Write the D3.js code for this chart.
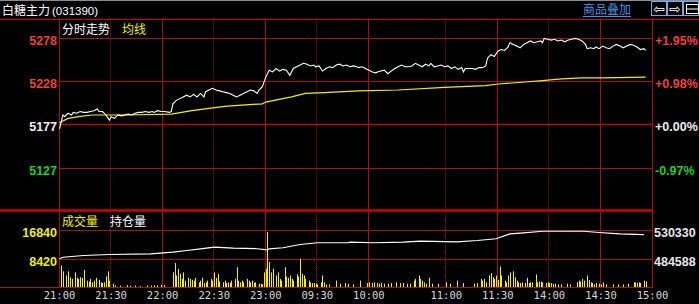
<!DOCTYPE html>
<html><head><meta charset="utf-8">
<script src="https://cdn.jsdelivr.net/npm/d3@7/dist/d3.min.js"></script>
<style>html,body{margin:0;padding:0;background:#000;overflow:hidden}svg{display:block}</style>
</head><body><svg id="c" width="699" height="304"></svg>
<script>
// ---------- data ----------
const title = "白糖主力";
const code = "(031390)";
const timeLabels = ["21:00","21:30","22:00","22:30","23:00","09:30","10:00","11:00","11:30","14:00","14:30","15:00"];
const timeMinutes = [0,30,60,90,120,150,180,225,255,285,315,345];
const priceTicks = [5278,5228,5177,5127];
const pctTicks = ["+1.95%","+0.98%","+0.00%","-0.97%"];
const volTicks = [16840,8420];
const oiTicks = [530330,484588];
const preClose = 5177;

const priceMin = [0,2,3,5,7,8,10,12,14,16,18,20,22,23,25,27,29,30,32,34,36,38,40,42,44,46,48,50,52,54,55,57,59,61,64,65,66,68,70,72,74,76,78,80,82,84,85,87,89,91,93,95,97,99,101,103,105,107,109,111,113,115,116,118,120,122,124,126,128,130,132,134,136,138,140,142,144,146,148,149,151,153,155,157,159,161,163,165,167,169,171,173,174,176,178,180,182,184,185,187,189,191,193,195,197,199,201,203,205,207,209,211,213,215,216,218,220,222,224,226,228,230,232,234,235,236,238,240,242,244,246,248,249,251,253,255,257,259,261,262,264,266,268,270,272,274,276,278,280,281,282,284,286,288,290,292,294,296,298,300,302,304,306,307,309,311,312,314,316,318,320,322,324,326,328,330,332,334,336,338,340,341];
const priceVal = [5172,5188,5186,5190,5188,5191,5190,5192,5191,5191,5192,5193,5195,5192,5192,5188,5182,5186,5184,5188,5187,5188,5189,5188,5190,5191,5191,5192,5191,5192,5191,5193,5192,5192,5191,5192,5201,5205,5207,5209,5211,5209,5212,5209,5213,5209,5215,5217,5219,5217,5216,5215,5214,5213,5211,5209,5211,5213,5215,5217,5216,5213,5217,5221,5232,5240,5238,5242,5239,5241,5240,5234,5242,5244,5246,5248,5247,5245,5246,5244,5245,5239,5242,5244,5243,5246,5247,5245,5246,5244,5245,5244,5243,5244,5242,5240,5238,5237,5238,5239,5240,5236,5239,5242,5244,5246,5244,5244,5245,5248,5246,5244,5247,5245,5248,5244,5245,5246,5244,5245,5242,5244,5241,5243,5238,5242,5242,5242,5241,5243,5243,5245,5254,5258,5256,5262,5264,5263,5267,5272,5270,5268,5266,5270,5272,5274,5272,5273,5274,5272,5277,5276,5275,5276,5274,5275,5273,5275,5276,5277,5276,5274,5270,5265,5266,5265,5267,5265,5268,5266,5265,5268,5270,5268,5266,5268,5270,5269,5267,5264,5265,5263];

const avgMin = [0,5,11,19,38,65,77,96,118,120,135,143,154,174,197,224,248,255,269,281,292,304,316,341];
const avgVal = [5179,5184,5186,5188,5188,5189,5193,5198,5201,5203,5209,5213,5214,5216,5217,5220,5222,5224,5226,5228,5230,5231,5231,5232];

const volMin = [1,2,4,5,6,7,9,10,11,12,13,14,16,17,18,19,20,21,23,24,25,26,27,28,29,31,32,35,39,41,44,47,51,53,55,57,59,61,66,67,68,69,70,71,72,73,75,76,77,78,79,81,82,83,84,85,86,88,89,90,91,92,93,95,96,97,98,99,100,102,103,104,105,106,107,109,110,111,112,113,114,116,117,118,119,120,121,122,123,124,126,127,128,129,131,132,133,134,135,136,138,139,140,141,142,143,145,146,147,148,149,150,152,153,154,155,157,161,163,166,168,171,175,179,180,182,183,185,186,187,189,191,193,196,198,200,202,204,206,207,209,210,211,212,213,215,217,220,225,227,231,235,241,243,245,246,247,248,250,251,252,253,254,255,256,257,259,260,261,262,264,265,266,267,268,269,271,272,273,274,275,277,278,279,280,281,283,284,285,286,287,288,290,292,295,297,301,302,303,304,305,307,308,309,310,311,312,314,315,316,318,322,325,328,331,334,335,336,337,338,340,341];
const volVal = [6400,4700,3500,4700,3000,2500,4400,2800,2500,3000,2800,5100,2000,1700,2500,1500,2000,2800,2200,1500,1300,1500,3200,4700,2000,1100,600,500,700,500,600,400,600,500,700,600,800,700,4400,7100,3500,5400,4000,2500,4400,2000,2800,2500,2200,2000,2800,1500,2000,2800,1300,1500,2000,2500,2000,4400,2800,4000,1800,1500,2000,1300,1500,1300,2000,2500,5900,2000,1500,2000,1500,2500,2000,1500,2000,1300,1500,1100,1100,900,4400,5400,16100,7400,4400,5400,3500,4400,2500,2000,5900,3200,2800,3500,2500,2000,3800,3200,8300,4000,3500,2500,2000,1500,1300,1300,1100,900,1500,3500,1500,900,900,2000,1100,1300,1100,900,2000,1300,1500,1300,1500,1300,1100,1300,1100,1100,1300,1500,1300,1300,1100,1100,2000,2500,3500,2500,2000,1500,1100,2800,1100,1100,1500,1100,2000,1300,1100,1300,2500,2000,2500,1500,3500,4200,3000,2500,3500,2200,6100,3500,2000,1500,3500,4400,4700,3000,2000,1500,1300,1500,1300,2800,1300,1500,1500,3800,1500,1700,1700,1500,1300,1500,1300,1300,1100,1100,900,900,1100,900,1500,2000,1700,2500,2000,3500,2200,1500,1300,900,1300,1100,900,1500,900,900,900,900,1100,1500,1500,1300,1500,1300,2000,1700];

const oiMin = [0,2,14,29,53,66,74,82,90,101,115,121,122,130,140,150,168,169,183,200,210,231,243,254,262,270,281,305,314,326,340];
const oiVal = [484100,486600,489300,490900,492000,494500,497200,499900,502400,500800,500000,498300,499900,501500,506700,509400,509400,510300,509400,510300,511900,510900,513000,515700,523500,525100,527600,527600,525600,523500,522400];

// ---------- drawing ----------
const svg = d3.select("#c");
const W = 699, H = 304;
const L = 59.5, R = 652.5;
const mainTop = 19.5, mainBot = 210.5, volTop = 211, volBot = 287.5;
const gridRed = "#a01414", dotRed = "#9a1212", brightRed = "#d00000";
const yellow = "#f0f000";
const numFont = "'Liberation Sans', Arial, sans-serif";
const cjkFont = "'Noto Sans CJK SC', sans-serif";

svg.append("rect").attr("width",W).attr("height",H).attr("fill","#000");

const x = d3.scaleLinear().domain([0,345]).range([L,R]);
const y = d3.scaleLinear().domain([5127,5278]).range([167.5,37.5]);
const yv = d3.scaleLinear().domain([0,16840]).range([volBot,229.5]);
const yo = d3.scaleLinear().domain([484588,530330]).range([258.5,229.5]);

// top gray line and header separator
svg.append("line").attr("x1",0).attr("x2",W).attr("y1",0.5).attr("y2",0.5).attr("stroke","#8c8c8c");
svg.append("line").attr("x1",0).attr("x2",W).attr("y1",mainTop).attr("y2",mainTop).attr("stroke",brightRed).attr("stroke-width",1.2);

// header texts
const hdr = svg.append("text").attr("x",2).attr("y",14.5).attr("fill","#fff");
hdr.append("tspan").attr("font-family",cjkFont).attr("font-size",12).text(title);
hdr.append("tspan").attr("font-family",numFont).attr("font-size",11.5).attr("dx",2).text(code);

svg.append("text").attr("x",583).attr("y",14).attr("fill","#4a90e2")
  .attr("font-family",cjkFont).attr("font-size",12).text("商品叠加");
svg.append("line").attr("x1",583).attr("x2",631).attr("y1",16.5).attr("y2",16.5).attr("stroke","#4a90e2");

// buttons
const btnColor = "#7fa8e0";
[651,667,683].forEach((bx,i)=>{
  svg.append("rect").attr("x",bx+0.5).attr("y",1.5).attr("width",15).attr("height",14)
    .attr("fill","#000").attr("stroke",btnColor);
  if(i<2){
    svg.append("text").attr("x",bx+8).attr("y",13.5).attr("text-anchor","middle")
      .attr("fill","#fff").attr("font-family","'DejaVu Sans', sans-serif").attr("font-size",14)
      .text(i===0?"⇦":"⇨");
  } else {
    svg.append("rect").attr("x",bx+3.5).attr("y",4.5).attr("width",12).attr("height",9)
      .attr("fill","none").attr("stroke","#fff");
    svg.append("line").attr("x1",bx+3.5).attr("x2",bx+15.5).attr("y1",9).attr("y2",9).attr("stroke","#fff");
  }
});

// vertical grid lines
timeMinutes.forEach((m,i)=>{
  const solid = (i%2===0) || i===timeMinutes.length-1;
  const xx = Math.round(x(m))-0.5;
  [[mainTop,mainBot],[volTop,volBot]].forEach(([a,b])=>{
    svg.append("line").attr("x1",xx).attr("x2",xx).attr("y1",a).attr("y2",b)
      .attr("stroke",solid?gridRed:dotRed).attr("stroke-width",1)
      .attr("stroke-dasharray",solid?null:"1,1");
  });
});

// horizontal price grid
priceTicks.forEach(p=>{
  const yy = Math.round(y(p))+0.5;
  svg.append("line").attr("x1",L).attr("x2",R).attr("y1",yy).attr("y2",yy)
    .attr("stroke",p===preClose?"#b01010":gridRed).attr("stroke-width",p===preClose?1.6:1);
});
// panel separator & bottom
svg.append("line").attr("x1",0).attr("x2",R).attr("y1",mainBot).attr("y2",mainBot)
  .attr("stroke",brightRed).attr("stroke-width",2.5);
volTicks.forEach(v=>{
  const yy = Math.round(yv(v))+0.5;
  svg.append("line").attr("x1",L).attr("x2",R).attr("y1",yy).attr("y2",yy).attr("stroke",gridRed);
});
svg.append("line").attr("x1",0).attr("x2",R).attr("y1",volBot).attr("y2",volBot).attr("stroke",gridRed).attr("stroke-width",1.2);

// price axis labels (left)
const colorFor = p => p>preClose?"#f04040":(p<preClose?"#20d020":"#f0f0f0");
svg.append("g").selectAll("text").data(priceTicks).join("text")
  .attr("x",57).attr("y",d=>y(d)+7).attr("text-anchor","end")
  .attr("font-family",numFont).attr("font-weight","bold").attr("font-size",12.5)
  .attr("fill",d=>colorFor(d)).text(d=>d);
// percent labels (right)
svg.append("g").selectAll("text").data(pctTicks).join("text")
  .attr("x",655).attr("y",(d,i)=>y(priceTicks[i])+7)
  .attr("font-family",numFont).attr("font-weight","bold").attr("font-size",12.5)
  .attr("fill",(d,i)=>colorFor(priceTicks[i])).text(d=>d);
// volume labels
svg.append("g").selectAll("text").data(volTicks).join("text")
  .attr("x",57).attr("y",d=>yv(d)+7).attr("text-anchor","end")
  .attr("font-family",numFont).attr("font-weight","bold").attr("font-size",12.5)
  .attr("fill",yellow).text(d=>d);
svg.append("g").selectAll("text").data(oiTicks).join("text")
  .attr("x",654).attr("y",d=>yo(d)+7)
  .attr("font-family",numFont).attr("font-weight","bold").attr("font-size",12.5)
  .attr("fill","#e8e8e8").text(d=>d);

// time labels
svg.append("g").selectAll("text").data(timeLabels).join("text")
  .attr("x",(d,i)=>x(timeMinutes[i])).attr("y",299).attr("text-anchor","middle")
  .attr("font-family","'DejaVu Sans Mono', monospace").attr("font-size",10.5)
  .attr("fill","#d8d8d8").text(d=>d);

// panel titles
svg.append("text").attr("x",62).attr("y",34).attr("fill","#fff").attr("font-family",cjkFont).attr("font-size",12).text("分时走势");
svg.append("text").attr("x",122).attr("y",34).attr("fill",yellow).attr("font-family",cjkFont).attr("font-size",12).text("均线");
svg.append("text").attr("x",62).attr("y",225.5).attr("fill",yellow).attr("font-family",cjkFont).attr("font-size",12).text("成交量");
svg.append("text").attr("x",110).attr("y",225.5).attr("fill","#fff").attr("font-family",cjkFont).attr("font-size",12).text("持仓量");

// volume bars
svg.append("g").selectAll("line").data(volMin).join("line")
  .attr("x1",d=>Math.round(x(d))+0.5).attr("x2",d=>Math.round(x(d))+0.5)
  .attr("y1",volBot-0.5).attr("y2",(d,i)=>yv(volVal[i]))
  .attr("stroke",yellow).attr("stroke-width",1);

// open interest line
const oiLine = d3.line().x(d=>x(d[0])).y(d=>yo(d[1]));
svg.append("path").datum(oiMin.map((m,i)=>[m,oiVal[i]])).attr("d",oiLine)
  .attr("fill","none").attr("stroke","#fff").attr("stroke-width",1.2);

// average line
const pl = d3.line().x(d=>x(d[0])).y(d=>y(d[1]));
svg.append("path").datum(avgMin.map((m,i)=>[m,avgVal[i]])).attr("d",pl)
  .attr("fill","none").attr("stroke",yellow).attr("stroke-width",1.2);
// price line
svg.append("path").datum(priceMin.map((m,i)=>[m,priceVal[i]])).attr("d",pl)
  .attr("fill","none").attr("stroke","#fff").attr("stroke-width",1.1);
</script></body></html>
